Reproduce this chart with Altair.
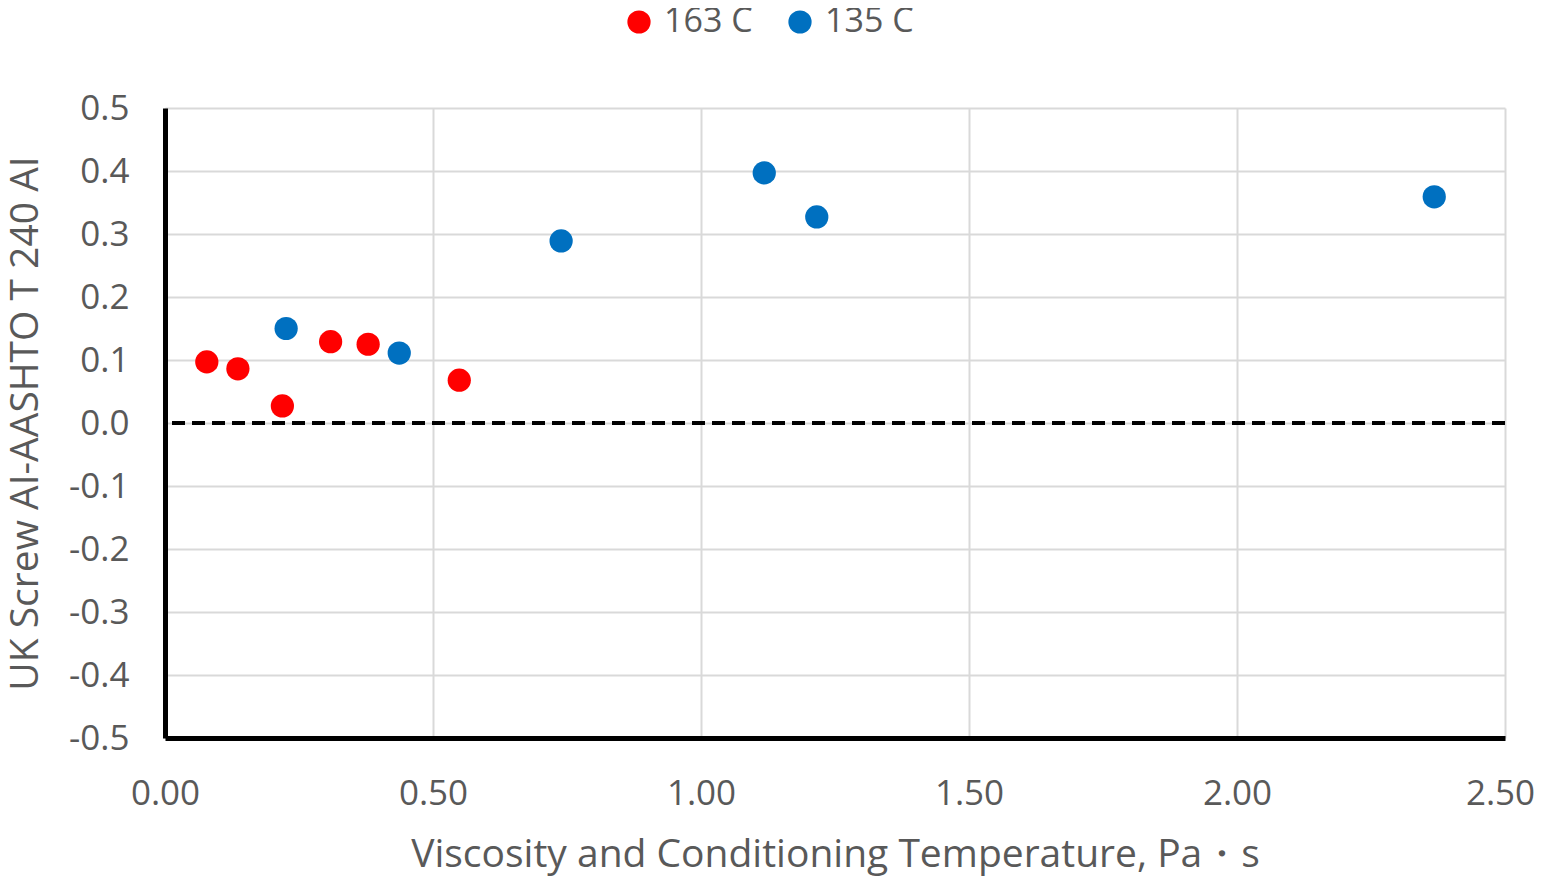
import altair as alt
import pandas as pd

series_names = ["163 C", "135 C"]
colors = ["#FF0000", "#0070C0"]

red_x = [0.078, 0.136, 0.219, 0.309, 0.379, 0.549]
red_y = [0.097, 0.086, 0.027, 0.129, 0.125, 0.068]
blue_x = [0.226, 0.437, 0.739, 1.118, 1.216, 2.368]
blue_y = [0.150, 0.111, 0.289, 0.397, 0.327, 0.359]

x_ticks = [0.0, 0.5, 1.0, 1.5, 2.0, 2.5]
y_ticks = [-0.5, -0.4, -0.3, -0.2, -0.1, 0.0, 0.1, 0.2, 0.3, 0.4, 0.5]
zero_line = [0.0]

FONT = "Open Sans"
GREY = "#595959"

df = pd.DataFrame({
    "x": red_x + blue_x,
    "y": red_y + blue_y,
    "series": [series_names[0]] * len(red_x) + [series_names[1]] * len(blue_x),
})
zero_df = pd.DataFrame({"y": zero_line})

x_scale = alt.Scale(domain=[0, 2.5], nice=False, zero=False)
y_scale = alt.Scale(domain=[-0.5, 0.5], nice=False, zero=False)

points = alt.Chart(df).mark_circle(size=540, opacity=1).encode(
    x=alt.X("x:Q", scale=x_scale,
            axis=alt.Axis(title="Viscosity and Conditioning Temperature, Pa・s",
                          values=x_ticks, format=".2f", grid=True,
                          gridColor="#D9D9D9", gridWidth=2,
                          domainColor="black", domainWidth=5,
                          ticks=False, labelPadding=38, labelFlush=False,
                          labelOffset={"condition": {"test": "datum.value >= 2.5", "value": -5}, "value": 0},
                          labelFont=FONT, labelFontSize=35, labelColor=GREY,
                          titleFont=FONT, titleFontSize=39, titleColor=GREY,
                          titleFontWeight="normal", titleY=116,
                          titleBaseline="middle")),
    y=alt.Y("y:Q", scale=y_scale,
            axis=alt.Axis(title="UK Screw AI-AASHTO T 240 AI",
                          values=y_ticks,
                          labelExpr="replace(format(datum.value, '.1f'), '\u2212', '-')",
                          grid=True,
                          gridColor="#D9D9D9", gridWidth=2,
                          domainColor="black", domainWidth=5,
                          ticks=False, labelPadding=36,
                          labelFont=FONT, labelFontSize=35, labelColor=GREY,
                          titleFont=FONT, titleFontSize=39, titleColor=GREY,
                          titleFontWeight="normal", titleX=-140, titleY=315,
                          titleBaseline="middle", titleAngle=-90)),
    color=alt.Color("series:N",
                    scale=alt.Scale(domain=series_names, range=colors),
                    legend=alt.Legend(title=None, orient="none",
                                      direction="horizontal",
                                      legendX=457, legendY=-103,
                                      symbolType="circle", symbolSize=540,
                                      symbolOpacity=1, symbolStrokeWidth=0,
                                      labelFont=FONT, labelFontSize=34,
                                      labelColor=GREY, labelOffset=8,
                                      columnPadding=30)),
)

rule = alt.Chart(zero_df).mark_rule(color="black", strokeWidth=4,
                                    strokeDash=[13, 7]).encode(
    y=alt.Y("y:Q", scale=y_scale)
)

chart = alt.layer(rule, points).properties(
    width=1340, height=630,
    autosize=alt.AutoSizeParams(type="none"),
    padding={"left": 157, "top": 100, "right": 30, "bottom": 140},
).configure_view(stroke=None)

chart.save("out.html", embed_options={"renderer": "svg", "actions": False})
